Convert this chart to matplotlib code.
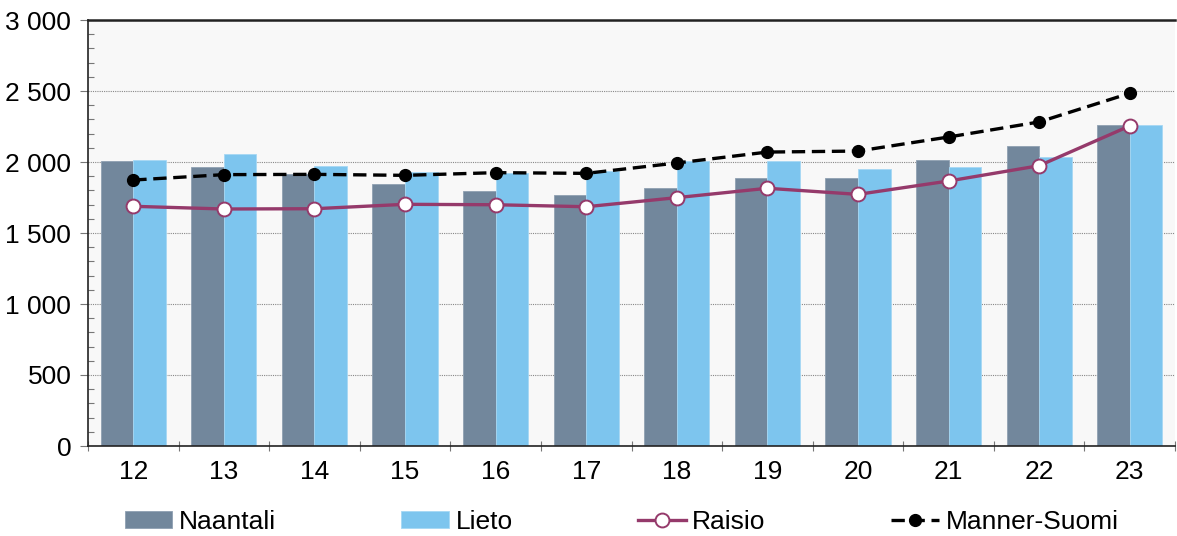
import matplotlib
matplotlib.use("Agg")
import matplotlib.pyplot as plt
from matplotlib.ticker import FuncFormatter, MultipleLocator
import numpy as np

plt.rcParams['font.family'] = ['Liberation Sans', 'DejaVu Sans']

years = ["12", "13", "14", "15", "16", "17", "18", "19", "20", "21", "22", "23"]
naantali = [2007, 1965, 1915, 1843, 1793, 1770, 1817, 1890, 1890, 2012, 2113, 2261]
lieto = [2014, 2054, 1974, 1927, 1920, 1937, 2005, 2005, 1953, 1962, 2037, 2258]
raisio = [1688, 1669, 1671, 1702, 1699, 1685, 1749, 1815, 1772, 1866, 1974, 2254]
manner_suomi = [1873, 1911, 1913, 1906, 1925, 1920, 1993, 2070, 2077, 2176, 2282, 2484]

c_naantali = "#72879C"
c_lieto = "#7DC5EE"
c_raisio = "#953A6B"

fs = 19

fig = plt.figure(figsize=(11.77, 5.36), dpi=100)
ax = fig.add_axes([88/1177, 1-446/536, (1175-88)/1177, (446-20)/536])
ax.set_facecolor("#F8F8F8")

x = np.arange(len(years))
w = 0.36
b1 = ax.bar(x - w/2, naantali, width=w, color=c_naantali, edgecolor="#8FA0B2", linewidth=0.6, label="Naantali", zorder=2)
b2 = ax.bar(x + w/2, lieto, width=w, color=c_lieto, edgecolor="#A6D8F4", linewidth=0.6, label="Lieto", zorder=2)
l1, = ax.plot(x, raisio, color=c_raisio, lw=2.4, marker="o", markersize=10,
        markerfacecolor="white", markeredgecolor=c_raisio, markeredgewidth=1.4,
        label="Raisio", zorder=4)
l2, = ax.plot(x, manner_suomi, color="black", lw=2.4, ls=(0, (4, 2)), marker="o", markersize=8.5,
        markerfacecolor="black", markeredgecolor="black", label="Manner-Suomi", zorder=3)

ax.set_xlim(-0.5, len(years) - 0.5)
ax.set_ylim(0, 3000)
ax.yaxis.set_major_locator(MultipleLocator(500))
ax.yaxis.set_minor_locator(MultipleLocator(100))
ax.yaxis.set_major_formatter(FuncFormatter(lambda v, p: f"{int(v):,}".replace(",", " ")))
ax.grid(axis="y", which="major", color="#888888", ls=(0, (1, 1)), lw=0.8, zorder=1)

ax.set_xticks(x)
ax.set_xticklabels(years)
ax.set_xticks(np.arange(len(years) + 1) - 0.5, minor=True)
ax.tick_params(axis="x", which="major", length=0, pad=10, labelsize=fs)
ax.tick_params(axis="x", which="minor", length=7, direction="inout", color="#777777", width=0.8)
ax.tick_params(axis="y", which="major", length=6, direction="out", color="#777777", width=0.8, labelsize=fs, pad=6)
ax.tick_params(axis="y", which="minor", length=4, direction="in", color="#777777", width=0.8)

ax.spines["right"].set_visible(False)
ax.spines["top"].set_color("#222222")
ax.spines["top"].set_linewidth(1.8)
ax.spines["left"].set_color("#222222")
ax.spines["left"].set_linewidth(1.2)
ax.spines["bottom"].set_color("#222222")
ax.spines["bottom"].set_linewidth(1.2)

fig.legend([b1, b2, l1, l2], ["Naantali", "Lieto", "Raisio", "Manner-Suomi"],
           loc="center", bbox_to_anchor=(0.528, 1-522/536), ncol=4,
           frameon=False, fontsize=fs, handlelength=1.8, handletextpad=0.25,
           columnspacing=4.76, handleheight=0.6)

fig.savefig("out.png", dpi=100)
